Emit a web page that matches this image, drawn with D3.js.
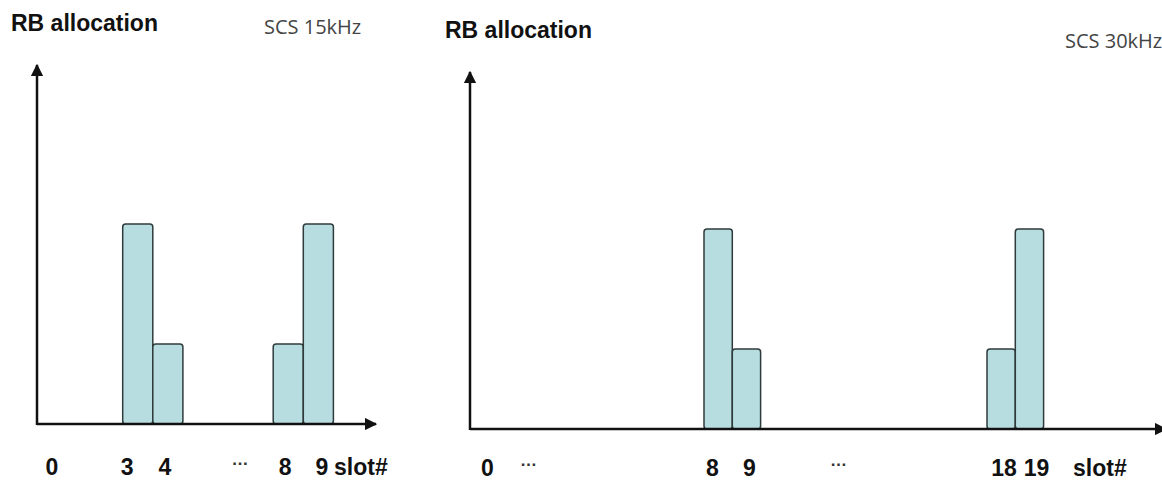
<!DOCTYPE html>
<html>
<head>
<meta charset="utf-8">
<script src="https://cdn.jsdelivr.net/npm/d3@7"></script>
<style>
  body { margin: 0; background: #fff; }
  svg { display: block; }
</style>
</head>
<body>
<svg id="chart" width="1162" height="485"></svg>
<script>
// SCS 15kHz panel
const slots15 = [0, 1, 2, 3, 4, 5, 6, 7, 8, 9];
const rb15 = [0, 0, 0, 100, 40, 0, 0, 0, 40, 100];
const tickPos15 = [0.65, 3.15, 4.4, 6.9, 8.4, 9.62];
const tickLab15 = ["0", "3", "4", "…", "8", "9"];

// SCS 30kHz panel
const slots30 = [0, 1, 2, 3, 4, 5, 6, 7, 8, 9, 10, 11, 12, 13, 14, 15, 16, 17, 18, 19];
const rb30 = [0, 0, 0, 0, 0, 0, 0, 0, 100, 40, 0, 0, 0, 0, 0, 0, 0, 0, 40, 100];
const tickPos30 = [0.35, 1.8, 8.3, 9.6, 12.75, 18.6, 19.75];
const tickLab30 = ["0", "…", "8", "9", "…", "18", "19"];

const svg = d3.select("#chart");

// arrow head
svg.append("defs").append("marker")
    .attr("id", "arrow")
    .attr("viewBox", "0 0 10 10")
    .attr("refX", 9).attr("refY", 5)
    .attr("markerWidth", 5).attr("markerHeight", 5)
    .attr("markerUnits", "strokeWidth")
    .attr("orient", "auto")
  .append("path")
    .attr("d", "M0,0 L10,5 L0,10 z")
    .attr("fill", "#111");

function render_panel(p) {
    const g = svg.append("g");
    const n = p.slots.length;
    const x = d3.scaleLinear().domain([0, n]).range([p.x0, p.x0 + n * p.bw]);
    const y = d3.scaleLinear().domain([0, 100]).range([p.axisY, p.axisY - 200]);

    // bars
    const bars = [];
    for (let i = 0; i < n; ++i) {
        if (p.values[i] > 0) bars.push({ slot: p.slots[i], v: p.values[i] });
    }
    g.selectAll("rect.bar")
        .data(bars)
        .enter()
        .append("rect")
        .attr("class", "bar")
        .attr("x", d => x(d.slot))
        .attr("y", d => y(d.v))
        .attr("width", d => x(d.slot + 1) - x(d.slot))
        .attr("height", d => y(0) - y(d.v))
        .attr("rx", 3)
        .attr("fill", "#b8dde1")
        .attr("stroke", "#2f3b3b")
        .attr("stroke-width", 1.5);

    // axes
    g.append("line")
        .attr("x1", p.yAxisX).attr("y1", y(0) + 1)
        .attr("x2", p.yAxisX).attr("y2", p.arrowTop)
        .attr("stroke", "#111").attr("stroke-width", 2.5)
        .attr("marker-end", "url(#arrow)");
    g.append("line")
        .attr("x1", p.yAxisX).attr("y1", y(0))
        .attr("x2", p.arrowRight).attr("y2", y(0))
        .attr("stroke", "#111").attr("stroke-width", 2.5)
        .attr("marker-end", "url(#arrow)");

    // tick labels
    g.selectAll("text.tick")
        .data(p.tickPos)
        .enter()
        .append("text")
        .attr("class", "tick")
        .attr("x", d => x(d))
        .attr("y", (d, i) => p.tickLab[i] === "…" ? p.labelY - 10 : p.labelY)
        .attr("text-anchor", "middle")
        .attr("font-family", "Liberation Sans, Arial, sans-serif")
        .attr("font-weight", "bold")
        .attr("font-size", (d, i) => p.tickLab[i] === "…" ? 17 : 23)
        .attr("fill", (d, i) => p.tickLab[i] === "…" ? "#333" : "#111")
        .text((d, i) => p.tickLab[i]);

    g.append("text")
        .attr("x", p.slotX).attr("y", p.labelY)
        .attr("font-family", "Liberation Sans, Arial, sans-serif")
        .attr("font-weight", "bold")
        .attr("font-size", 23)
        .attr("fill", "#111")
        .text("slot#");

    // titles
    g.append("text")
        .attr("x", p.titleX).attr("y", p.titleY)
        .attr("font-family", "Liberation Sans, Arial, sans-serif")
        .attr("font-weight", "bold")
        .attr("font-size", 23)
        .attr("fill", "#111")
        .text("RB allocation");
    g.append("text")
        .attr("x", p.scsX).attr("y", p.scsY)
        .attr("font-family", "Open Sans, sans-serif")
        .attr("font-size", 20)
        .attr("fill", "#444")
        .text(p.scs);
}

render_panel({
    slots: slots15, values: rb15, tickPos: tickPos15, tickLab: tickLab15,
    x0: 32.4, bw: 30.1, axisY: 424, yAxisX: 37, arrowTop: 65, arrowRight: 376,
    labelY: 475, slotX: 334, titleX: 11, titleY: 31, scs: "SCS 15kHz", scsX: 264, scsY: 34
});
render_panel({
    slots: slots30, values: rb30, tickPos: tickPos30, tickLab: tickLab30,
    x0: 477.6, bw: 28.3, axisY: 429, yAxisX: 470, arrowTop: 72, arrowRight: 1166,
    labelY: 476, slotX: 1073, titleX: 445, titleY: 38, scs: "SCS 30kHz", scsX: 1065, scsY: 48
});
</script>
</body>
</html>
